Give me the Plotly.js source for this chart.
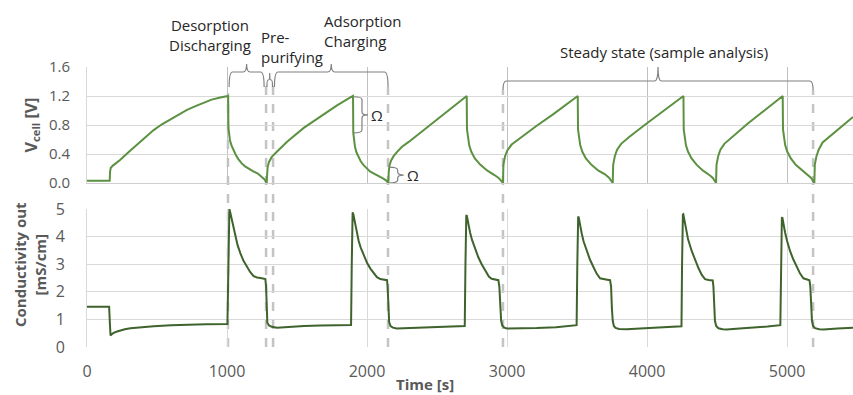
<!DOCTYPE html>
<html><head><meta charset="utf-8">
<script src="https://cdn.plot.ly/plotly-3.0.1.min.js"></script>
<style>html,body{margin:0;padding:0;background:#fff;}#chart{width:853px;height:395px;}</style>
</head><body><div id="chart"></div>
<script>
// ---- Data ----
// Cell voltage (top panel)
const vTime = [
  0, 162, 165, 170, 185, 238, 300, 357, 420, 476, 535, 595, 655, 714, 775, 833, 890, 952, 1008,
  1010, 1015, 1021, 1032, 1045, 1062, 1081, 1105, 1129, 1160, 1188, 1220, 1248, 1268, 1283,
  1286, 1290, 1300, 1320, 1345, 1380, 1429, 1548, 1667, 1786, 1881, 1900,
  1902, 1908, 1914, 1925, 1938, 1955, 1974, 2000, 2021, 2050, 2081, 2117, 2140, 2152,
  2155, 2160, 2172, 2190, 2215, 2250, 2300, 2379, 2545, 2712,
  2714, 2720, 2730, 2745, 2770, 2810, 2860, 2910, 2940, 2971,
  2974, 2986, 3002, 3033, 3093, 3212, 3331, 3505,
  3507, 3513, 3523, 3538, 3563, 3603, 3653, 3700, 3730, 3755,
  3758, 3770, 3786, 3815, 3870, 3990, 4120, 4260,
  4262, 4268, 4278, 4293, 4318, 4355, 4400, 4445, 4470, 4493,
  4496, 4508, 4524, 4552, 4605, 4720, 4845, 4969,
  4971, 4977, 4987, 5002, 5027, 5062, 5105, 5145, 5172, 5195,
  5198, 5210, 5226, 5254, 5310, 5400, 5471
];
const vCell = [
  0.03, 0.03, 0.16, 0.21, 0.24, 0.32, 0.43, 0.53, 0.64, 0.73, 0.81, 0.88, 0.95, 1.01, 1.06, 1.11, 1.15, 1.18, 1.20,
  0.76, 0.66, 0.59, 0.52, 0.46, 0.39, 0.33, 0.27, 0.23, 0.19, 0.16, 0.13, 0.09, 0.05, 0.00,
  0.14, 0.22, 0.29, 0.36, 0.41, 0.48, 0.57, 0.76, 0.92, 1.07, 1.18, 1.20,
  0.69, 0.58, 0.50, 0.42, 0.36, 0.30, 0.25, 0.20, 0.16, 0.13, 0.10, 0.06, 0.03, 0.00,
  0.15, 0.24, 0.31, 0.37, 0.43, 0.50, 0.57, 0.69, 0.95, 1.20,
  0.74, 0.62, 0.52, 0.43, 0.34, 0.25, 0.17, 0.11, 0.07, 0.00,
  0.25, 0.37, 0.45, 0.53, 0.62, 0.79, 0.95, 1.20,
  0.74, 0.62, 0.52, 0.43, 0.34, 0.25, 0.17, 0.12, 0.07, 0.00,
  0.25, 0.37, 0.46, 0.54, 0.63, 0.81, 1.00, 1.20,
  0.74, 0.62, 0.52, 0.43, 0.34, 0.25, 0.17, 0.11, 0.07, 0.00,
  0.25, 0.37, 0.46, 0.54, 0.63, 0.82, 1.01, 1.20,
  0.74, 0.62, 0.52, 0.43, 0.34, 0.25, 0.18, 0.12, 0.07, 0.00,
  0.25, 0.37, 0.46, 0.56, 0.65, 0.79, 0.91
];
// Outlet conductivity (bottom panel)
const cTime = [
  0, 158, 163, 168, 175, 190, 215, 238, 270, 310, 380, 476, 600, 714, 850, 1003,
  1008, 1011, 1014, 1017, 1022, 1030, 1040, 1052, 1060, 1075, 1095, 1118, 1143, 1165, 1190, 1214, 1240, 1262, 1274,
  1279, 1283, 1288, 1300, 1320, 1357, 1429, 1550, 1667, 1780, 1886,
  1891, 1894, 1897, 1900, 1905, 1912, 1920, 1930, 1940, 1955, 1976, 2000, 2024, 2048, 2071, 2095, 2120, 2143,
  2147, 2152, 2158, 2168, 2185, 2212, 2260, 2307, 2450, 2600, 2698,
  2703, 2706, 2709, 2712, 2717, 2725, 2736, 2750, 2771, 2795, 2819, 2845, 2870, 2890, 2915, 2938,
  2945, 2952, 2958, 2966, 2980, 3000, 3021, 3100, 3212, 3350, 3497,
  3502, 3505, 3508, 3511, 3516, 3524, 3533, 3547, 3569, 3592, 3617, 3640, 3664, 3690, 3715, 3736,
  3743, 3749, 3755, 3763, 3775, 3800, 3855, 3950, 4045, 4150, 4246,
  4250, 4253, 4256, 4259, 4264, 4271, 4279, 4293, 4319, 4343, 4367, 4390, 4414, 4440, 4469,
  4474, 4479, 4485, 4494, 4510, 4540, 4569, 4660, 4760, 4860, 4952,
  4957, 4960, 4963, 4966, 4971, 4978, 4986, 5000, 5021, 5045, 5069, 5093, 5117, 5140, 5160,
  5166, 5172, 5178, 5186, 5200, 5230, 5260, 5360, 5471
];
const cond = [
  1.46, 1.46, 0.90, 0.42, 0.45, 0.51, 0.56, 0.60, 0.64, 0.68, 0.72, 0.75, 0.79, 0.81, 0.82, 0.83,
  3.00, 4.70, 4.97, 5.00, 4.90, 4.72, 4.50, 4.20, 4.00, 3.70, 3.40, 3.12, 2.91, 2.72, 2.57, 2.52, 2.50, 2.49, 2.46,
  2.20, 1.20, 0.88, 0.78, 0.73, 0.70, 0.73, 0.76, 0.78, 0.79, 0.80,
  3.00, 4.60, 4.85, 4.87, 4.75, 4.52, 4.28, 4.02, 3.85, 3.60, 3.32, 3.05, 2.84, 2.66, 2.53, 2.46, 2.44, 2.42,
  2.20, 1.30, 0.90, 0.76, 0.70, 0.67, 0.68, 0.69, 0.70, 0.73, 0.76,
  3.00, 4.50, 4.75, 4.78, 4.62, 4.38, 4.15, 3.88, 3.55, 3.25, 3.00, 2.75, 2.55, 2.47, 2.45, 2.42,
  2.20, 1.40, 0.95, 0.78, 0.70, 0.67, 0.67, 0.67, 0.69, 0.72, 0.79,
  3.00, 4.45, 4.70, 4.72, 4.55, 4.32, 4.12, 3.82, 3.47, 3.17, 2.90, 2.66, 2.49, 2.45, 2.44, 2.42,
  2.20, 1.40, 0.95, 0.76, 0.69, 0.65, 0.64, 0.67, 0.70, 0.72, 0.75,
  3.00, 4.55, 4.80, 4.81, 4.66, 4.45, 4.22, 3.90, 3.48, 3.14, 2.86, 2.62, 2.46, 2.43, 2.41,
  2.20, 1.40, 0.95, 0.76, 0.68, 0.64, 0.63, 0.67, 0.70, 0.74, 0.79,
  3.00, 4.45, 4.67, 4.70, 4.55, 4.35, 4.15, 3.85, 3.48, 3.17, 2.90, 2.66, 2.49, 2.45, 2.42,
  2.20, 1.40, 0.95, 0.76, 0.68, 0.64, 0.63, 0.67, 0.70
];
const xTicks = [0, 1000, 2000, 3000, 4000, 5000];
const vTicks = [0, 0.4, 0.8, 1.2, 1.6];
const cTicks = [0, 1, 2, 3, 4, 5];
// phase boundaries (s)
const phaseLines = [1007, 1279, 1329, 2150, 2971, 5186];
const phaseNames = ['Desorption<br>Discharging', 'Pre-<br>purifying', 'Adsorption<br>Charging', 'Steady state (sample analysis)'];
// ohmic drops: [time, V high, V low]
const ohmDrops = [[1902, 1.19, 0.69], [2157, 0.22, 0.0]];

// ---- Layout helpers ----
const TOP = 67, BOT = 347, H = BOT - TOP;
const P = py => (BOT - py) / H;       // pixel row -> paper y
const gray = '#595959', brace = '#808080';

function hBrace(x0, x1, yEnd, yBar, yTip) {
  const xm = (x0 + x1) / 2, d = Math.min(25, (x1 - x0) / 5);
  return `M${x0},${yEnd} Q${x0},${yBar} ${x0 + d},${yBar} L${xm - d},${yBar} ` +
         `Q${xm},${yBar} ${xm},${yTip} Q${xm},${yBar} ${xm + d},${yBar} ` +
         `L${x1 - d},${yBar} Q${x1},${yBar} ${x1},${yEnd}`;
}
function vBrace(yHi, yLo, x0, xBar, xTip) {
  const ym = (yHi + yLo) / 2, d = Math.min(0.04, (yHi - yLo) / 5);
  return `M${x0},${yHi} Q${xBar},${yHi} ${xBar},${yHi - d} L${xBar},${ym + d} ` +
         `Q${xBar},${ym} ${xTip},${ym} Q${xBar},${ym} ${xBar},${ym - d} ` +
         `L${xBar},${yLo + d} Q${xBar},${yLo} ${x0},${yLo}`;
}

const dashTops = [93, 85, 85, 87, 90, 90];
const shapes = phaseLines.map((t, i) => ({
  type: 'line', xref: 'x', yref: 'paper', x0: t, x1: t, y0: P(347), y1: P(dashTops[i]),
  line: {color: '#c4c4c4', width: 2.5, dash: 'dash'}, layer: 'below'
}));
const bl = {color: brace, width: 1.2};
shapes.push({type: 'path', xref: 'x', yref: 'paper', line: bl,
  path: hBrace(phaseLines[0] + 8, phaseLines[1] - 14, P(87), P(72), P(64))});
shapes.push({type: 'path', xref: 'x', yref: 'paper', line: bl,
  path: hBrace(phaseLines[1] + 6, phaseLines[2] - 4, P(87), P(80), P(73))});
shapes.push({type: 'path', xref: 'x', yref: 'paper', line: bl,
  path: hBrace(phaseLines[2] + 10, phaseLines[3], P(87), P(72), P(64))});
shapes.push({type: 'path', xref: 'x', yref: 'paper', line: bl,
  path: hBrace(phaseLines[4], phaseLines[5], P(90), P(81), P(67))});
ohmDrops.forEach(o => shapes.push({type: 'path', xref: 'x', yref: 'y2', line: bl,
  path: vBrace(o[1], o[2], o[0], o[0] + 62, o[0] + 105)}));

const af = {family: 'Open Sans', size: 15, color: '#262626'};
const titleFont = {family: 'Open Sans', size: 15, color: gray};
const annotations = [
  {xref: 'x', yref: 'paper', x: 879, y: P(35), text: phaseNames[0], showarrow: false, xanchor: 'center', yanchor: 'middle', align: 'center', font: af},
  {xref: 'x', yref: 'paper', x: 1225, y: P(47), text: phaseNames[1], showarrow: false, xanchor: 'left', yanchor: 'middle', align: 'left', font: af},
  {xref: 'x', yref: 'paper', x: 1675, y: P(30.5), text: phaseNames[2], showarrow: false, xanchor: 'left', yanchor: 'middle', align: 'left', font: af},
  {xref: 'x', yref: 'paper', x: 4121, y: P(52), text: phaseNames[3], showarrow: false, xanchor: 'center', yanchor: 'middle', font: af},
  {xref: 'x', yref: 'y2', x: ohmDrops[0][0] + 112, y: (ohmDrops[0][1] + ohmDrops[0][2]) / 2, text: 'Ω', showarrow: false, xanchor: 'left', yanchor: 'middle', font: af},
  {xref: 'x', yref: 'y2', x: ohmDrops[1][0] + 112, y: (ohmDrops[1][1] + ohmDrops[1][2]) / 2, text: 'Ω', showarrow: false, xanchor: 'left', yanchor: 'middle', font: af},
  {xref: 'paper', yref: 'paper', x: 0, xshift: -57, y: P(265), text: '<b>Conductivity out<br>[mS/cm]</b>', textangle: -90, showarrow: false, xanchor: 'center', yanchor: 'middle', font: titleFont},
  {xref: 'paper', yref: 'paper', x: (425 - 87) / 766, y: P(384), text: '<b>Time [s]</b>', showarrow: false, xanchor: 'center', yanchor: 'middle', font: {family: 'Open Sans', size: 15, color: gray}}
];

const traces = [
  {x: vTime, y: vCell, xaxis: 'x2', yaxis: 'y2', type: 'scatter', mode: 'lines',
   line: {color: '#5b9140', width: 2}, hoverinfo: 'skip'},
  {x: cTime, y: cond, xaxis: 'x', yaxis: 'y', type: 'scatter', mode: 'lines',
   line: {color: '#3f632d', width: 2}, hoverinfo: 'skip'}
];

const layout = {
  width: 853, height: 395,
  margin: {l: 87, r: 0, t: TOP, b: 395 - BOT},
  paper_bgcolor: '#ffffff', plot_bgcolor: 'rgba(0,0,0,0)',
  showlegend: false,
  font: {family: 'Open Sans'},
  xaxis: {domain: [0, 1], anchor: 'y', range: [0, 5471], tickvals: xTicks, ticks: '',
          showgrid: true, gridcolor: '#d9d9d9', zeroline: false, showline: false,
          tickfont: {family: 'Open Sans', size: 16, color: gray}, ticklabelstandoff: 13},
  yaxis: {domain: [0, P(209)], anchor: 'x', range: [0, 5], tickvals: cTicks, ticks: '',
          showgrid: true, gridcolor: '#d9d9d9', zeroline: false, showline: true, linecolor: '#d9d9d9',
          tickfont: {family: 'Open Sans', size: 16, color: gray}, ticklabelstandoff: 18},
  xaxis2: {domain: [0, 1], anchor: 'y2', range: [0, 5471], tickvals: xTicks, ticks: '',
           showticklabels: false, showgrid: true, gridcolor: '#c0c0c0', zeroline: false,
           showline: true, linecolor: '#cfcfcf'},
  yaxis2: {domain: [P(183), 1], anchor: 'x2', range: [0, 1.6], tickvals: vTicks, tickformat: '.1f', ticks: '',
           showgrid: true, gridcolor: '#d9d9d9', zeroline: false, showline: true, linecolor: '#d9d9d9',
           tickfont: {family: 'Open Sans', size: 15, color: gray}, ticklabelstandoff: 13,
           title: {text: '<b>V<sub>cell</sub> [V]</b>', font: {family: 'Open Sans', size: 16, color: gray}, standoff: 7}},
  shapes: shapes,
  annotations: annotations
};

Plotly.newPlot('chart', traces, layout, {displayModeBar: false, staticPlot: true});
</script>
</body></html>
